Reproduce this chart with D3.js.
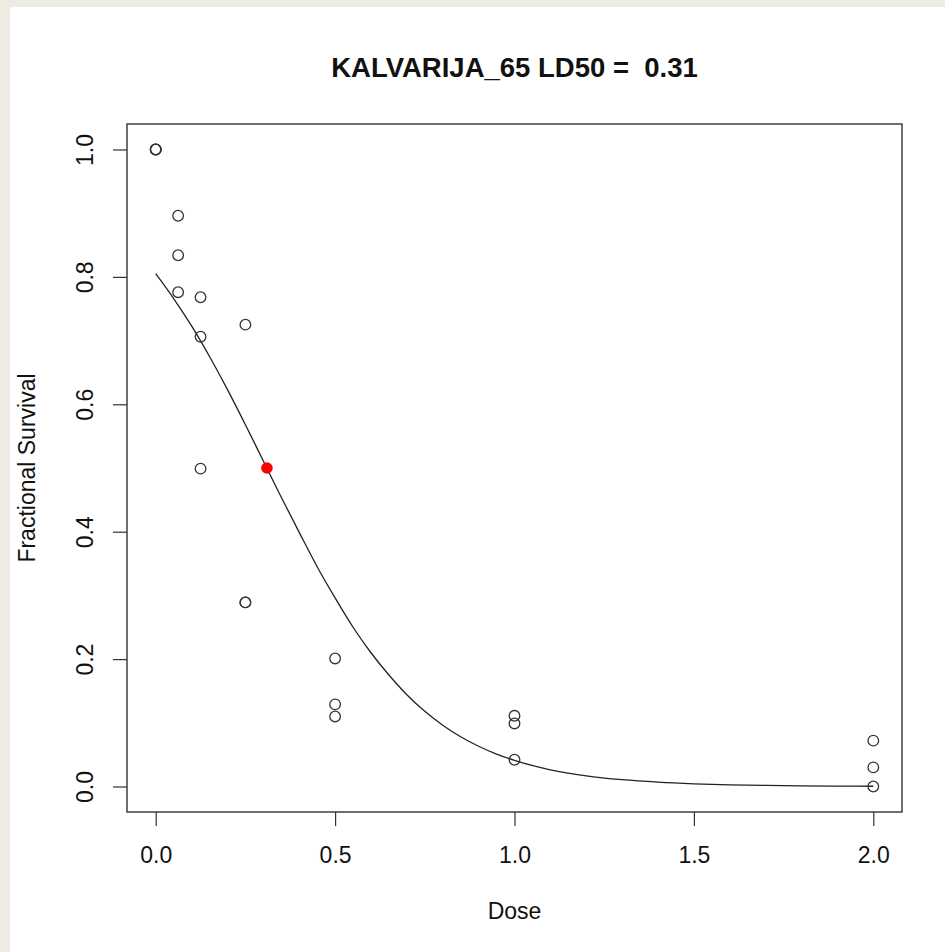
<!DOCTYPE html>
<html>
<head>
<meta charset="utf-8">
<script src="https://cdn.jsdelivr.net/npm/d3@7"></script>
<style>
  html, body { margin: 0; padding: 0; background: #eeebe3; }
  svg { display: block; }
  text { font-family: "Liberation Sans", Arial, Helvetica, sans-serif; fill: #111; }
</style>
</head>
<body>
<svg id="chart" width="945" height="952"></svg>
<script>
// ---- data ----
const doses = [0, 0, 0, 0.0625, 0.0625, 0.0625, 0.125, 0.125, 0.125,
               0.25, 0.25, 0.25, 0.5, 0.5, 0.5, 1, 1, 1, 2, 2, 2];
const survival = [1.0, 1.0, 1.0, 0.896, 0.834, 0.776, 0.768, 0.706, 0.499,
                  0.725, 0.289, 0.289, 0.201, 0.129, 0.110, 0.111, 0.099, 0.042,
                  0.072, 0.030, 0.0];
const fitDose = [0, 0.05, 0.1, 0.15, 0.2, 0.25, 0.3, 0.35, 0.4, 0.45, 0.5, 0.55,
                 0.6, 0.65, 0.7, 0.75, 0.8, 0.85, 0.9, 0.95, 1.0,
                 1.1, 1.2, 1.3, 1.4, 1.5, 1.6, 1.7, 1.8, 1.9, 2.0];
const fitSurvival = [0.805, 0.766, 0.723, 0.675, 0.623, 0.568, 0.511, 0.454, 0.399, 0.345, 0.296, 0.250,
                     0.210, 0.175, 0.144, 0.118, 0.0963, 0.0781, 0.0632, 0.0509, 0.0410,
                     0.0263, 0.0168, 0.0107, 0.0068, 0.0043, 0.0027, 0.0017, 0.0011, 0.0007, 0.0004];
const ld50Dose = [0.31];
const ld50Survival = [0.5];
const xTicks = [0, 0.5, 1, 1.5, 2];
const yTicks = [0, 0.2, 0.4, 0.6, 0.8, 1.0];
const titleText = "KALVARIJA_65 LD50 =  0.31";
const xLabel = "Dose";
const yLabel = "Fractional Survival";

// ---- layout ----
const svg = d3.select("#chart");
const L = 127, R = 902, T = 124, B = 812;

svg.append("rect").attr("x", 10).attr("y", 7).attr("width", 935).attr("height", 945).attr("fill", "#ffffff");

const x = d3.scaleLinear().domain([-0.08, 2.08]).range([L, R]);
const y = d3.scaleLinear().domain([-0.04, 1.04]).range([B, T]);

// axes
const gx = svg.append("g").attr("transform", `translate(0,${B})`)
  .call(d3.axisBottom(x).tickValues(xTicks).tickFormat(d3.format(".1f")).tickSize(14).tickSizeOuter(0));
gx.select(".domain").remove();
gx.selectAll(".tick line").attr("stroke", "#333").attr("stroke-width", 1.2);
gx.selectAll(".tick text").attr("y", 51).attr("dy", 0)
  .style("font-size", "23px").style("font-family", "'Liberation Sans', Arial, sans-serif").attr("fill", "#111");

const gy = svg.append("g").attr("transform", `translate(${L},0)`)
  .call(d3.axisLeft(y).tickValues(yTicks).tickFormat(d3.format(".1f")).tickSize(14).tickSizeOuter(0));
gy.select(".domain").remove();
gy.selectAll(".tick line").attr("stroke", "#333").attr("stroke-width", 1.2);
gy.selectAll(".tick text").attr("x", 0).attr("y", -34).attr("dy", 0)
  .attr("transform", "rotate(-90)").attr("text-anchor", "middle")
  .style("font-size", "23px").style("font-family", "'Liberation Sans', Arial, sans-serif").attr("fill", "#111");

// box
svg.append("rect").attr("x", L).attr("y", T).attr("width", R - L).attr("height", B - T)
  .attr("fill", "none").attr("stroke", "#333").attr("stroke-width", 1.4);

// fitted curve
const fit = fitDose.map((d, i) => [d, fitSurvival[i]]);
svg.append("path").datum(fit)
  .attr("d", d3.line().x(d => x(d[0])).y(d => y(d[1])).curve(d3.curveMonotoneX))
  .attr("fill", "none").attr("stroke", "#222").attr("stroke-width", 1.3);

// points
svg.append("g").selectAll("circle").data(doses.map((d, i) => [d, survival[i]]))
  .join("circle")
  .attr("cx", d => x(d[0])).attr("cy", d => y(d[1])).attr("r", 5.3)
  .attr("fill", "none").attr("stroke", "#333").attr("stroke-width", 1.3);

// LD50 point
svg.append("g").selectAll("circle").data(ld50Dose.map((d, i) => [d, ld50Survival[i]]))
  .join("circle")
  .attr("cx", d => x(d[0])).attr("cy", d => y(d[1])).attr("r", 5.8)
  .attr("fill", "#ff0000");

// title and labels
svg.append("text").attr("x", (L + R) / 2).attr("y", 77).attr("text-anchor", "middle")
  .style("font-size", "27.5px").style("font-weight", "bold").style("white-space", "pre")
  .attr("xml:space", "preserve").text(titleText);
svg.append("text").attr("x", (L + R) / 2).attr("y", 919).attr("text-anchor", "middle")
  .style("font-size", "23px").text(xLabel);
svg.append("text").attr("transform", `translate(35,${(T + B) / 2}) rotate(-90)`).attr("text-anchor", "middle")
  .style("font-size", "23px").text(yLabel);
</script>
</body>
</html>
